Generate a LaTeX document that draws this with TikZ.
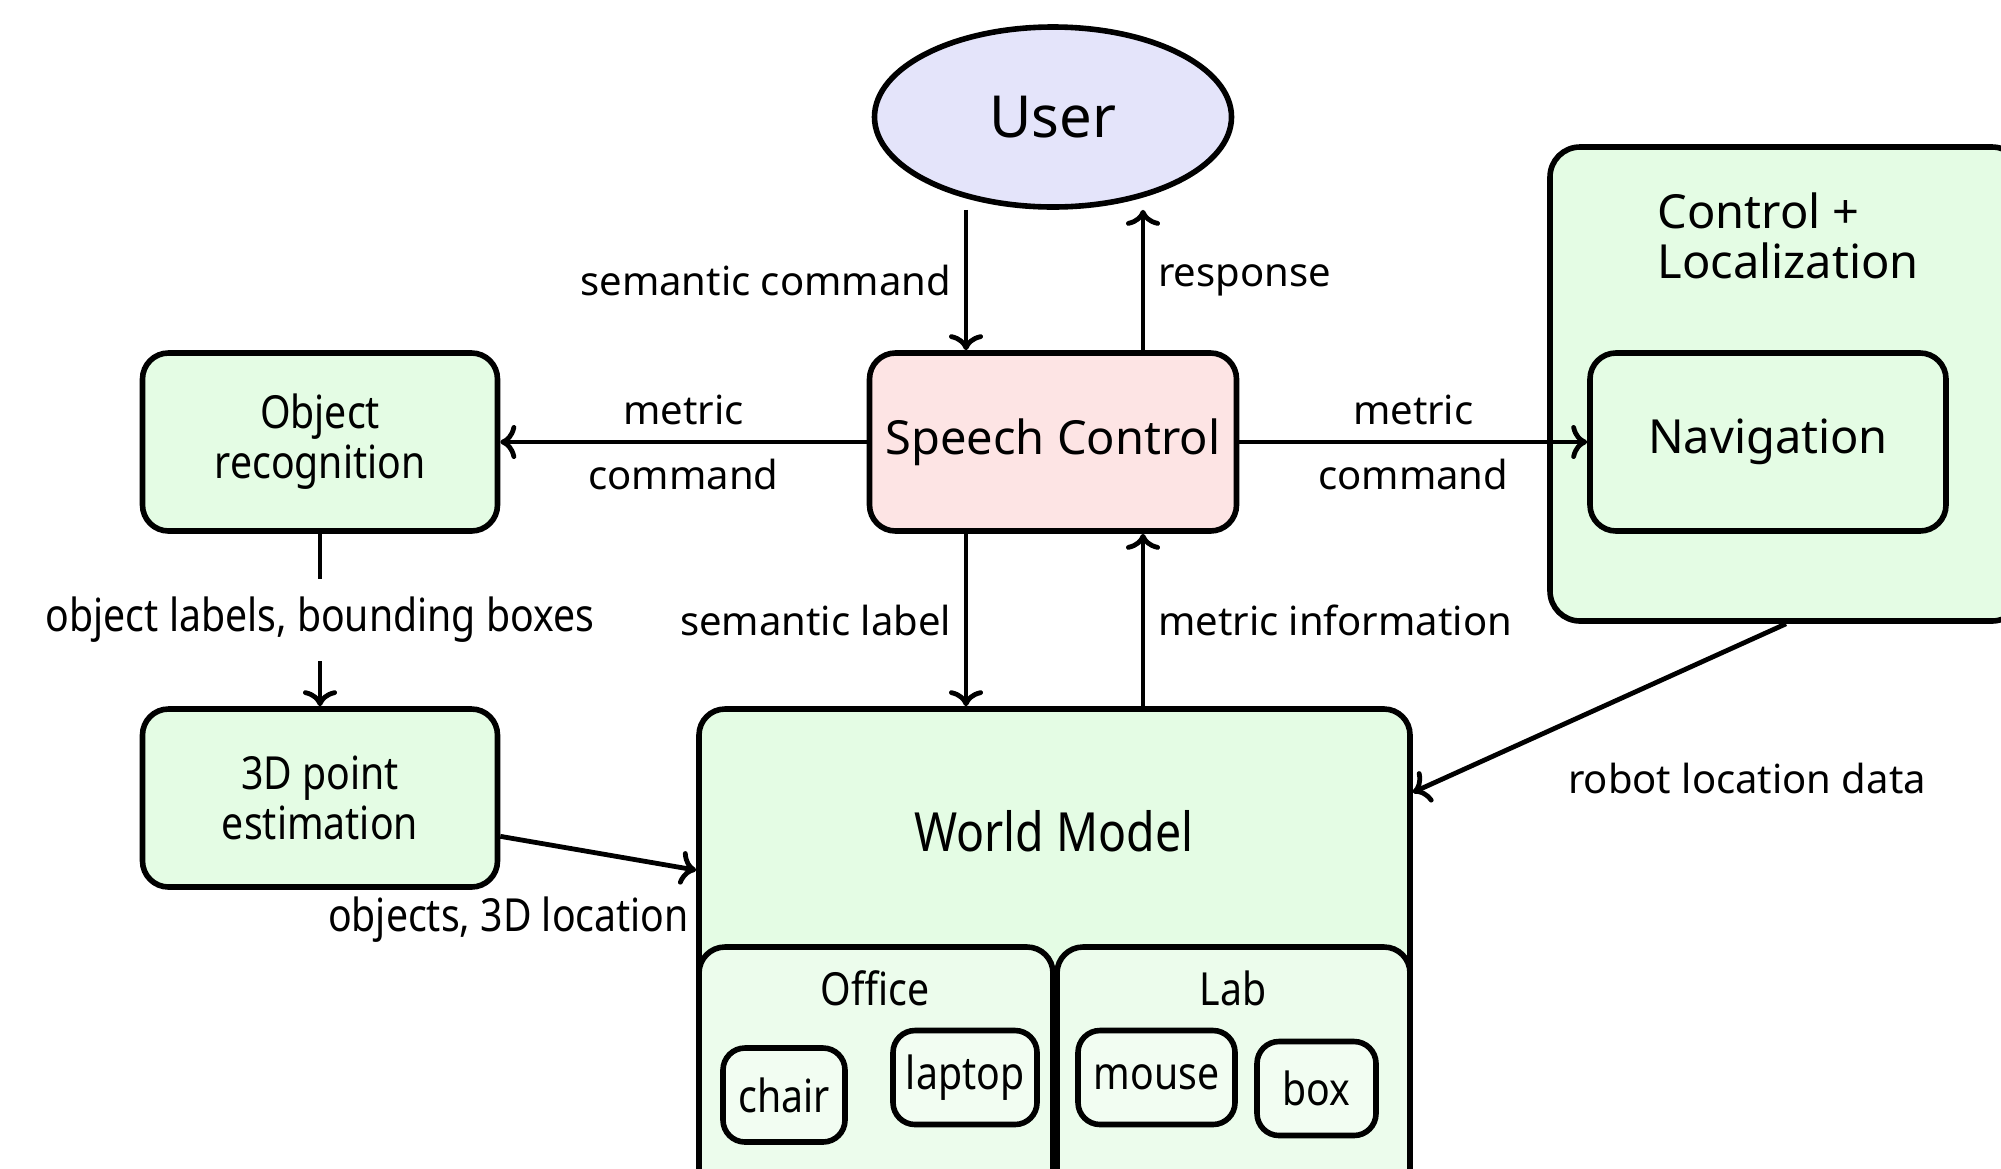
\documentclass[tikz,border=0pt]{standalone}
\usepackage{fontspec}
\setmainfont{Noto Sans}
\newfontfamily\narrowfont[FakeStretch=0.86]{Noto Sans}
\usetikzlibrary{arrows.meta,shapes.geometric}
\tikzset{every picture/.style={line width=0.75pt}}
\definecolor{userfill}{HTML}{E4E4FA}
\definecolor{speechfill}{HTML}{FDE4E4}
\definecolor{greenfill}{HTML}{E4FCE4}
\definecolor{roomfill}{HTML}{ECFCEC}
\definecolor{itemfill}{HTML}{F2FDF2}

\begin{document}
\begin{tikzpicture}[x=0.5pt,y=0.5pt,yscale=-1,xscale=1,
  blockbox/.style={draw,line width=2.8pt,rounded corners=13pt,fill=greenfill,align=center,inner sep=0pt},
  itembox/.style={blockbox,rounded corners=11pt,fill=itemfill,minimum height=47pt},
  arr/.style={line width=2.4pt,-{Computer Modern Rightarrow[length=8pt,width=17pt]}},
  lbl/.style={font=\fontsize{20}{24}\selectfont},
  nlbl/.style={font=\narrowfont\fontsize{22.8}{25}\selectfont},
  big/.style={font=\fontsize{23.5}{25}\selectfont}]
\useasboundingbox (0,0) rectangle (2001,1168);

%Shape: Ellipse [user]
\node[draw,ellipse,line width=2.8pt,fill=userfill,minimum width=178.5pt,minimum height=90pt,inner sep=0pt,font=\fontsize{29}{34}\selectfont] (user) at (1053,117) {User};
%Shape: Rectangle [speech]
\node[blockbox,fill=speechfill,minimum width=183.5pt,minimum height=89pt,big] (speech) at (1053,442) {Speech Control};
%Shape: Rectangle [objrec]
\node[blockbox,minimum width=177.5pt,minimum height=89pt,nlbl] (objrec) at (320,442) {Object\\recognition};
%Shape: Rectangle [pointest]
\node[blockbox,minimum width=177.5pt,minimum height=89pt,nlbl] (pointest) at (320,798) {3D point\\estimation};
%Shape: Rectangle [ctrl]
\node[blockbox,rounded corners=15pt,minimum width=236pt,minimum height=237pt] (ctrl) at (1786,384) {};
% Text Node
\node[big,anchor=west,align=left] (ctrltxt) at (1650,236) {Control +\\Localization};
%Shape: Rectangle [nav]
\node[blockbox,minimum width=178pt,minimum height=89pt,big] (nav) at (1768,442) {Navigation};

%Shape: Rectangle [world]
\node[blockbox,minimum width=355.5pt,minimum height=250.5pt] (world) at (1054.5,959.5) {};
% Text Node
\node[font=\narrowfont\fontsize{27}{30}\selectfont] (worldtxt) at (1054,831) {World Model};
%Shape: Rectangle [office]
\node[blockbox,fill=roomfill,minimum width=177pt,minimum height=126pt] (office) at (876,1073) {};
%Shape: Rectangle [lab]
\node[blockbox,fill=roomfill,minimum width=176.5pt,minimum height=126pt] (lab) at (1233.5,1073) {};
% Text Node
\node[nlbl] (officetxt) at (875,988) {Office};
% Text Node
\node[nlbl] (labtxt) at (1233,988) {Lab};
%Shape: Rectangle [items]
\node[itembox,minimum width=61pt,nlbl] (chair) at (784,1095) {chair};
\node[itembox,minimum width=72pt,nlbl] (laptop) at (965,1077.5) {laptop};
\node[itembox,minimum width=78.5pt,nlbl] (mouse) at (1156.5,1077.5) {mouse};
\node[itembox,minimum width=59.5pt,nlbl] (box) at (1316.5,1088.5) {box};

% Connectors
\coordinate (lx) at (966,0);
\coordinate (rx) at (1143,0);
\draw[arr] (user.south -| lx) -- (speech.north -| lx) node[midway,left=3pt,lbl] {semantic command};
\draw[arr] (speech.north -| rx) -- (user.south -| rx) node[midway,right=3pt,lbl] {response};
\draw[arr] (speech.west) -- (objrec.east) node[midway,above=4pt,lbl] {metric} node[midway,below=4pt,lbl] {command};
\draw[arr] (speech.east) -- (nav.west) node[midway,above=4pt,lbl] {metric} node[midway,below=4pt,lbl] {command};
\draw[arr] (objrec.south) -- (pointest.north) node[midway,fill=white,inner xsep=2pt,inner ysep=9pt,nlbl] {object labels, bounding boxes};
\draw[arr] (speech.south -| lx) -- (world.north -| lx) node[midway,left=3pt,lbl] {semantic label};
\draw[arr] (world.north -| rx) -- (speech.south -| rx) node[midway,right=3pt,lbl] {metric information};
\draw[arr] (pointest.-12) -- (world.166.6) node[at end,anchor=north east,inner xsep=2.5pt,inner ysep=12pt,nlbl] {objects, 3D location};
\draw[arr] (ctrl.south) -- (world.25.9);
% Text Node
\node[lbl] (locdata) at (1747,778) {robot location data};

\end{tikzpicture}
\end{document}
